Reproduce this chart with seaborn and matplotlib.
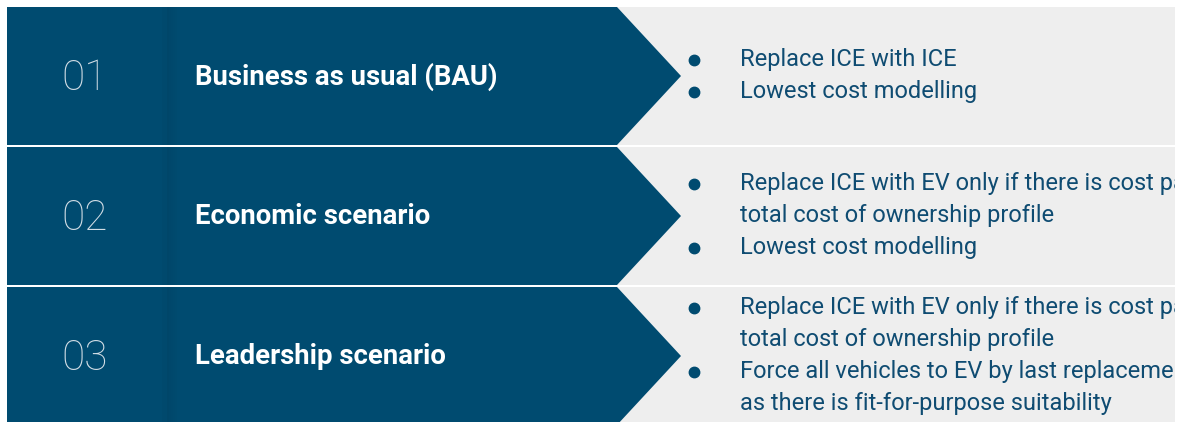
"""
Scenario overview - three modelling scenarios drawn as arrow rows
"""

import matplotlib
matplotlib.use("Agg")
import matplotlib.pyplot as plt
from matplotlib.patches import Polygon, Rectangle
import seaborn as sns

sns.set_theme(style="white")
plt.rcParams["font.family"] = ["Roboto", "DejaVu Sans"]

# -------------------------------------------------
# Data
# -------------------------------------------------

numbers = ["01", "02", "03"]
titles = ["Business as usual (BAU)", "Economic scenario", "Leadership scenario"]
bullets = [
    [["Replace ICE with ICE"],
     ["Lowest cost modelling"]],
    [["Replace ICE with EV only if there is cost parity in the",
      "total cost of ownership profile"],
     ["Lowest cost modelling"]],
    [["Replace ICE with EV only if there is cost parity in the",
      "total cost of ownership profile"],
     ["Force all vehicles to EV by last replacement as long",
      "as there is fit-for-purpose suitability"]],
]

# -------------------------------------------------
# Style
# -------------------------------------------------

W, H = 1186, 422
DARK = "#004B70"
GREY = "#EEEEEE"
NUM_COLOR = "#D3DEE6"
TEXT_COLOR = "#0F4C72"

row_top = 7
row_h = 138
row_gap = 2
left = 7
arrow_base = 617
arrow_tip = 681
grey_right = 1175
divider_x = 167
line_step = 32

fig = plt.figure(figsize=(W / 100, H / 100), dpi=100)
# the panel is cut at the right edge of the grey band, like the source slide
ax = fig.add_axes([0, 0, grey_right / W, 1])
ax.set_xlim(0, grey_right)
ax.set_ylim(H, 0)
ax.axis("off")

for i, (num, title, items) in enumerate(zip(numbers, titles, bullets)):
    top = row_top + i * (row_h + row_gap)
    mid = top + row_h / 2
    bottom = top + row_h

    # grey panel behind
    ax.add_patch(Rectangle((arrow_base, top), grey_right - arrow_base, row_h,
                           facecolor=GREY, edgecolor="none", zorder=1))

    # dark arrow
    arrow = Polygon([(left, top), (arrow_base, top), (arrow_tip, mid),
                     (arrow_base, bottom), (left, bottom)],
                    closed=True, facecolor=DARK, edgecolor="none", zorder=2)
    ax.add_patch(arrow)

    # soft shadow at the divider
    for k, a in enumerate([0.06, 0.045, 0.03, 0.02, 0.01]):
        ax.add_patch(Rectangle((divider_x + k * 2, top), 2, row_h,
                               facecolor="black", alpha=a, edgecolor="none", zorder=3))
    ax.add_patch(Rectangle((divider_x - 5, top), 5, row_h,
                           facecolor="black", alpha=0.025, edgecolor="none", zorder=3))

    ax.text(85, mid + 2, num, color=NUM_COLOR, fontsize=30.5, fontweight="ultralight",
            ha="center", va="center", zorder=4)
    ax.text(195, mid + 1, title, color="white", fontsize=19.8, fontweight="bold",
            ha="left", va="center", zorder=4)

    # bullet lines, centred on the row
    lines = []
    for item in items:
        for j, ln in enumerate(item):
            lines.append((j == 0, ln))
    n = len(lines)
    for j, (has_dot, ln) in enumerate(lines):
        y = mid - 0.5 + (j - (n - 1) / 2) * line_step
        if has_dot:
            ax.plot(694, y, "o", color=DARK, markersize=7.5, zorder=4)
        ax.text(740, y, ln, color=TEXT_COLOR, fontsize=17, ha="left",
                va="center", zorder=4, clip_on=True)

fig.savefig("out.png", dpi=100)
plt.close(fig)
